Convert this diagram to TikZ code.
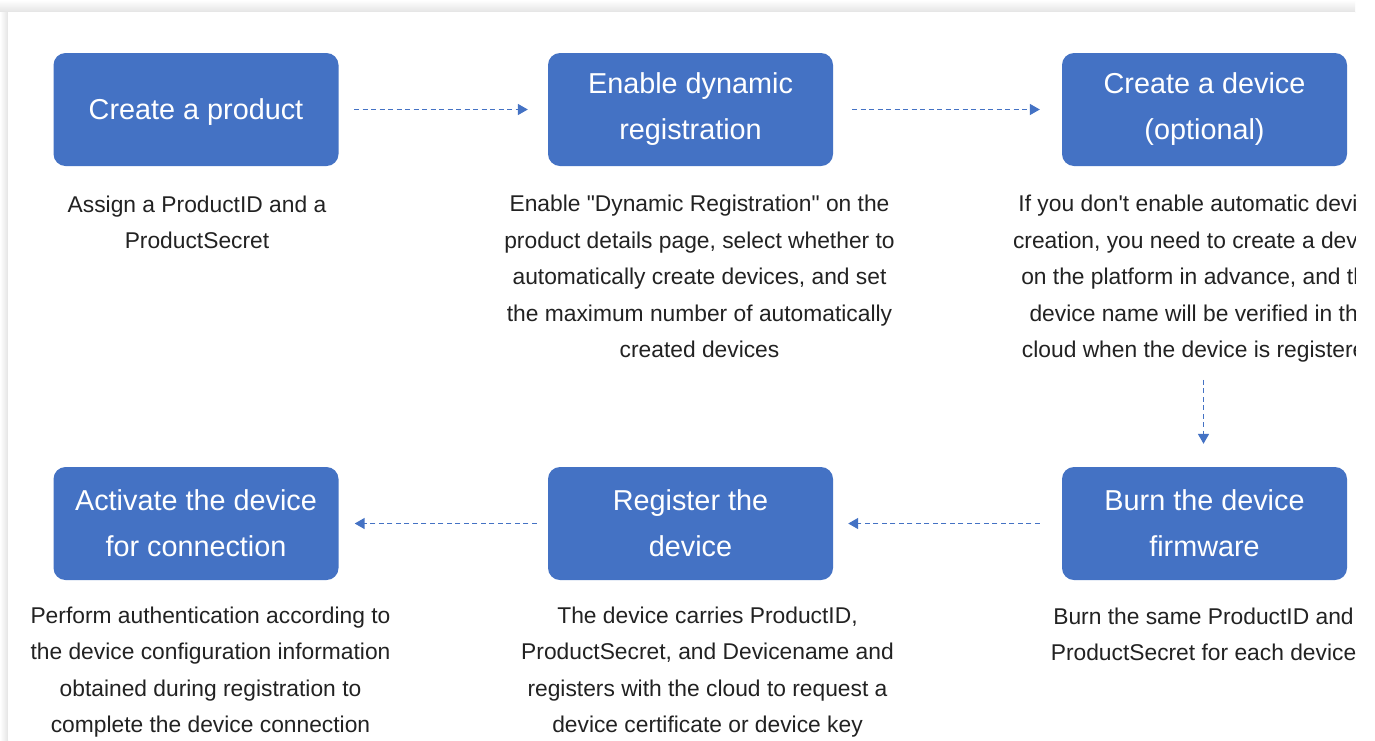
\documentclass[tikz,border=0pt]{standalone}
\usepackage{fontspec}
\setmainfont{Liberation Sans}
\usetikzlibrary{arrows.meta}
\definecolor{boxblue}{HTML}{4472C4}
\definecolor{flowblue}{HTML}{4472C4}
\definecolor{bodytext}{HTML}{222222}
\definecolor{shadowgray}{HTML}{E4E4E4}

\begin{document}
\begin{tikzpicture}[x=1pt,y=-1pt,
  stepbox/.style={draw=none, fill=boxblue, rounded corners=12pt,
    minimum width=285pt, minimum height=113pt, inner sep=0pt,
    text=white, align=center, font=\fontsize{28.8}{46}\selectfont},
  desc/.style={text=bodytext, align=center, inner sep=0pt, anchor=base,
    font=\fontsize{22.8}{36.5}\selectfont},
  flow/.style={draw=flowblue, line width=1.5pt, dash pattern=on 5pt off 3.5pt,
    -{Triangle[length=10pt,width=11pt]}}]

\useasboundingbox (0,0) rectangle (1375,740);
\fill[white] (0,0) rectangle (1375,740);
% soft shadow along the top and left edges of the panel
\shade[top color=white, bottom color=shadowgray] (0,0) rectangle (1355,12);
\shade[left color=white, right color=shadowgray] (0,12) rectangle (8,740);
\fill[white] (8,12) rectangle (1355,740);

\begin{scope}
\clip (8,12) rectangle (1355,740);

% steps
\node[stepbox, text depth=0pt] (product) at (196,109.5) {Create a product};
\node[stepbox] (dynreg)   at (690.5,109.5) {Enable dynamic\\registration};
\node[stepbox] (device)   at (1204.5,109.5) {Create a device\\(optional)};
\node[stepbox] (activate) at (196,523.5)   {Activate the device\\for connection};
\node[stepbox] (register) at (690.5,523.5) {Register the\\device};
\node[stepbox] (burn)     at (1204.5,523.5) {Burn the device\\firmware};

% descriptions (placed by the baseline of their last line)
\node[desc] (productdesc) at (197,248.5)
  {Assign a ProductID and a\\ProductSecret};
\node[desc] (dynregdesc) at (699.5,357.5)
  {Enable \textquotedbl Dynamic Registration\textquotedbl{} on the\\product details page, select whether to\\automatically create devices, and set\\the maximum number of automatically\\created devices};
\node[desc] (devicedesc) at (1200,357.5)
  {If you don\textquotesingle t enable automatic device\\creation, you need to create a device\\on the platform in advance, and the\\device name will be verified in the\\cloud when the device is registered};
\node[desc] (burndesc) at (1203.5,660.5)
  {Burn the same ProductID and\\ProductSecret for each device};
\node[desc] (registerdesc) at (707.5,732.5)
  {The device carries ProductID,\\ProductSecret, and Devicename and\\registers with the cloud to request a\\device certificate or device key};
\node[desc] (activatedesc) at (210.5,732.5)
  {Perform authentication according to\\the device configuration information\\obtained during registration to\\complete the device connection};

% flow
\draw[flow] ([xshift=15.5pt]product.east) -- ([xshift=-20pt]dynreg.west);
\draw[flow] ([xshift=19pt]dynreg.east) -- ([xshift=-22pt]device.west);
\coordinate (down) at ([xshift=-1pt,yshift=87pt]burn.north);
\draw[flow] (down) -- ([xshift=-1pt,yshift=23pt]burn.north);
\draw[flow] ([xshift=-22pt]burn.west) -- ([xshift=15pt]register.east);
\draw[flow] ([xshift=-11pt]register.west) -- ([xshift=16pt]activate.east);
\end{scope}
\end{tikzpicture}
\end{document}
